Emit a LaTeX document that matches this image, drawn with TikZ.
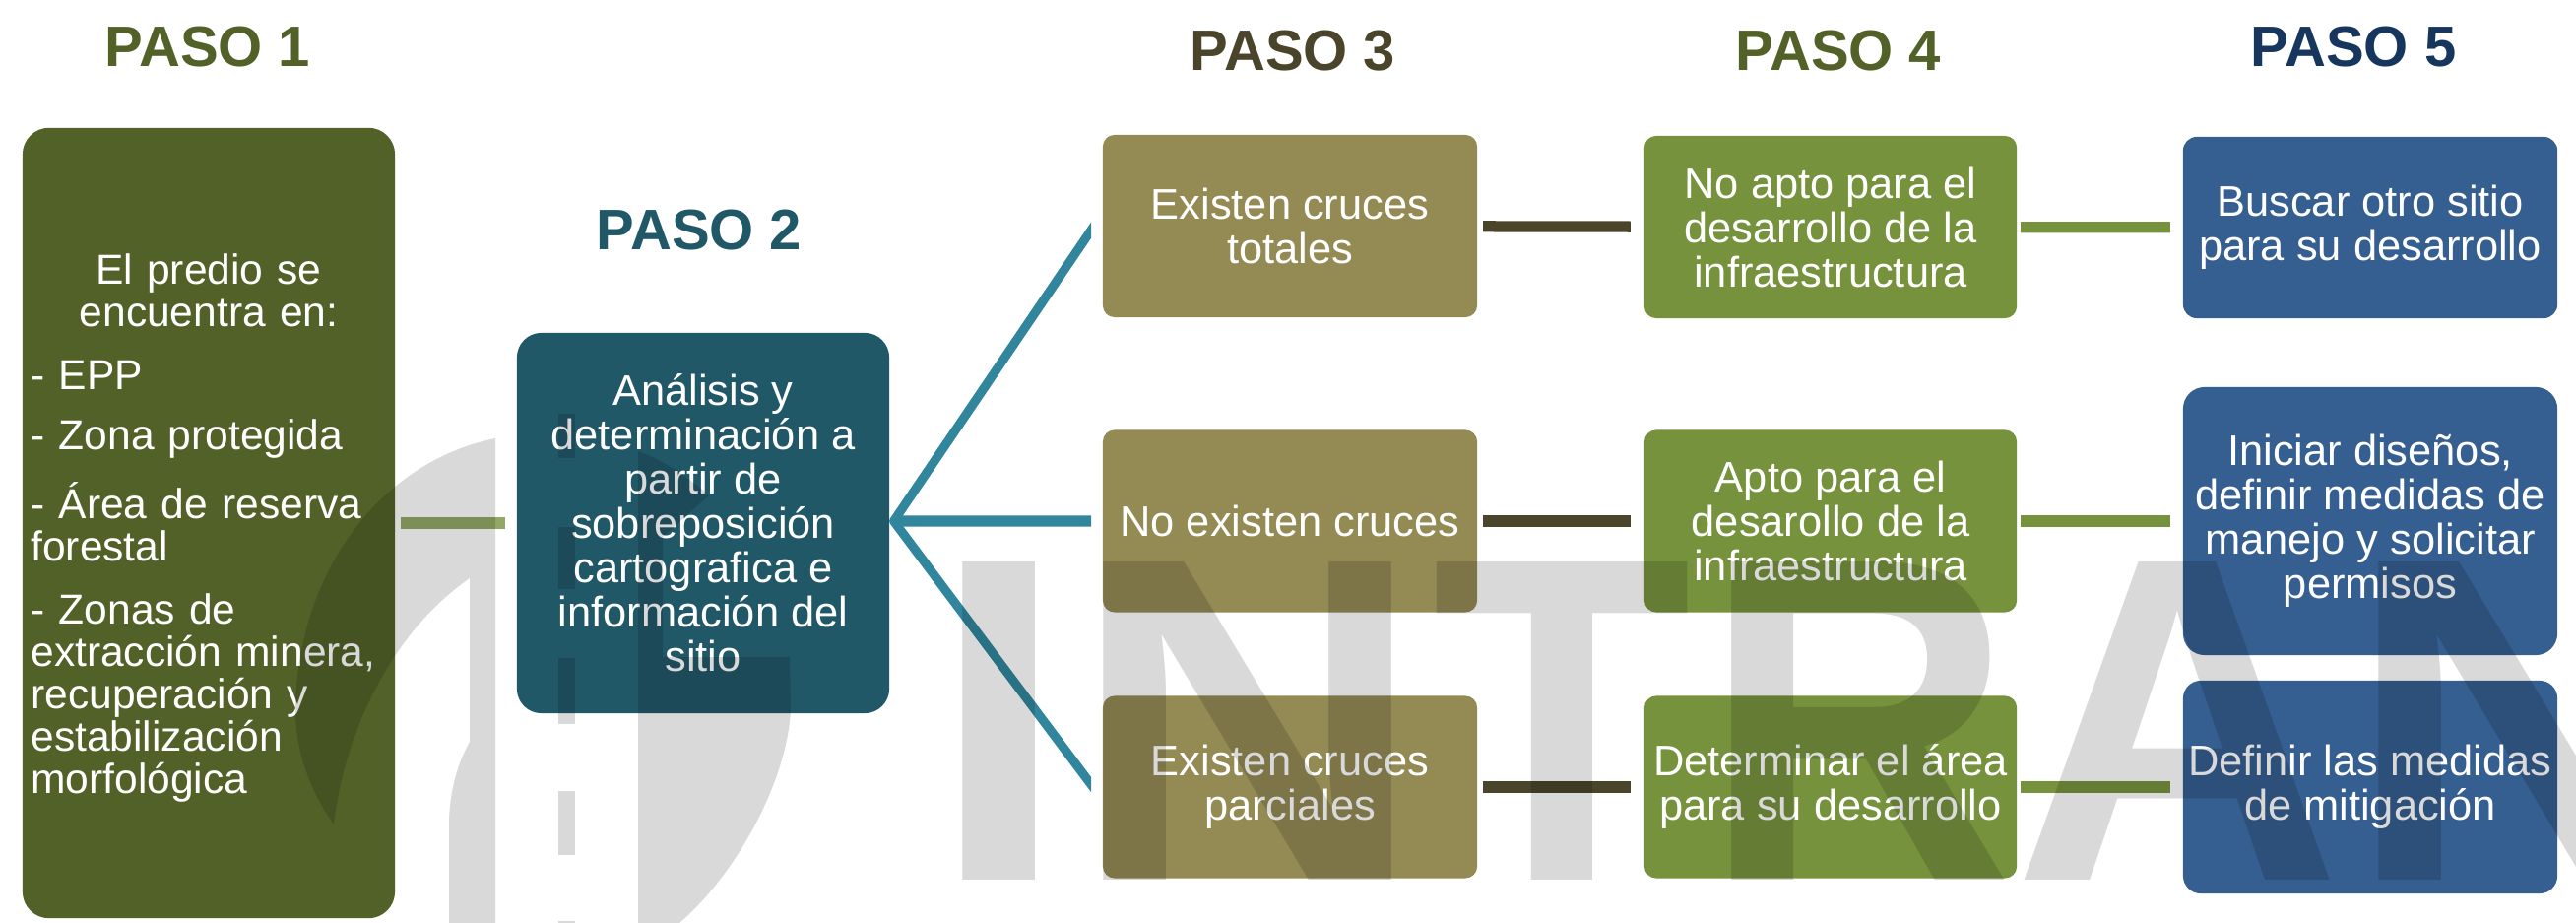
\documentclass[tikz,border=0pt]{standalone}
\usepackage{fontspec}
\setmainfont{Liberation Sans}
\usetikzlibrary{positioning}
\definecolor{olivo}{HTML}{526127}
\definecolor{petroleo}{HTML}{215868}
\definecolor{linea}{HTML}{31859C}
\definecolor{arena}{HTML}{948A54}
\definecolor{cafe}{HTML}{4A452A}
\definecolor{pasto}{HTML}{76923C}
\definecolor{azul}{HTML}{365F91}
\definecolor{marino}{HTML}{17365D}
\definecolor{claro}{HTML}{94A866}
\tikzset{
caja/.style={rectangle,inner sep=0pt,outer sep=0pt,text=white,align=center,font=\fontsize{12.35}{12.8}\selectfont},
cruce/.style={caja,fill=arena,minimum width=3.8cm,minimum height=1.85cm,rounded corners=0.12cm},
apto/.style={caja,fill=pasto,minimum width=3.78cm,minimum height=1.85cm,rounded corners=0.12cm},
accion/.style={caja,fill=azul,minimum width=3.8cm,rounded corners=0.18cm},
titulo/.style={inner sep=0pt,anchor=base,font=\fontsize{16.5}{18}\selectfont\bfseries},
tramo/.style={line width=3.2pt,shorten <=0.06cm,shorten >=0.14cm},
rama/.style={line width=2.6pt,linea,line join=round},
marca/.style={inner sep=0pt,anchor=base west,text=black,text opacity=0.15,font=\fontsize{133.5}{133.5}\selectfont\bfseries},
gris/.style={fill=black,fill opacity=0.15}
}
\begin{document}
\begin{tikzpicture}[x=0.01cm,y=-0.01cm]
\useasboundingbox (0,0) rectangle (2616,937);
% titulos
\node[titulo,text=olivo] (t1) at (211,68) {PASO 1};
\node[titulo,text=petroleo] (t2) at (710,254) {PASO 2};
\node[titulo,text=cafe] (t3) at (1313,72) {PASO 3};
\node[titulo,text=olivo] (t4) at (1867,72) {PASO 4};
\node[titulo,text=marino] (t5) at (2390,68) {PASO 5};
% paso 1 y 2
\node[caja,fill=olivo,minimum width=3.78cm,minimum height=8.02cm,rounded corners=0.27cm] (predio) at (212,531) {};
\node[inner sep=0pt,text=white,text width=3.61cm,align=left,font=\fontsize{12.1}{12.2}\selectfont] (lista) at ([yshift=-0.05cm]predio.center) {{\centering El predio se\\ encuentra en:\par}\vspace{6pt}
- EPP\par\vspace{5.2pt}
- Zona protegida\par\vspace{6pt}
- Área de reserva\\ forestal\par\vspace{6pt}
- Zonas de\\ extracción minera,\\ recuperación y\\ estabilización\\ morfológica};
\node[caja,fill=petroleo,minimum width=3.78cm,minimum height=3.86cm,rounded corners=0.25cm] (analisis) at (714,531) {Análisis y\\ determinación a\\ partir de\\ sobreposición\\ cartografica e\\ información del\\ sitio};
% paso 3
\node[cruce] (totales) at (1310,229.5) {Existen cruces\\ totales};
\node[cruce] (nocruces) at (1310,529) {No existen cruces};
\node[cruce] (parciales) at (1310,799) {Existen cruces\\ parciales};
% paso 4
\node[apto] (noapto) at (1859,230.5) {No apto para el\\ desarrollo de la\\ infraestructura};
\node[apto] (siapto) at (1859,529) {Apto para el\\ desarollo de la\\ infraestructura};
\node[apto] (area) at (1859,799) {Determinar el área\\ para su desarrollo};
% paso 5
\node[accion,minimum height=1.84cm,rounded corners=0.14cm] (buscar) at (2407,231) {Buscar otro sitio\\ para su desarrollo};
\node[accion,minimum height=2.72cm,rounded corners=0.22cm] (iniciar) at (2407,529) {Iniciar diseños,\\ definir medidas de\\ manejo y solicitar\\ permisos};
\node[accion,minimum height=2.16cm] (definir) at (2407,799) {Definir las medidas\\ de mitigación};
% conectores
\draw[line width=3.6pt,claro,shorten <=0.06cm,shorten >=0.12cm] (predio) -- (analisis);
\coordinate (vertice) at ([xshift=0.045cm,yshift=0.02cm]analisis.east);
\begin{scope}
\clip (0,0) rectangle (1108,937);
\draw[rama] (totales.176) -- (vertice) -- (parciales.184);
\draw[rama,line width=3.2pt] (vertice) -- (nocruces.west);
\end{scope}
\foreach \a/\b/\c in {totales/noapto/buscar,nocruces/siapto/iniciar,parciales/area/definir}{
\draw[tramo,cafe] (\a) -- (\b);
\draw[tramo,pasto,shorten <=0.04cm,shorten >=0.13cm] (\b) -- (\c);
}
% marca de agua
\fill[gris] (503,445) .. controls (380,470) and (301,590) .. (300,720) .. controls (300,770) and (320,810) .. (339,837) .. controls (350,740) and (400,640) .. (477,587) -- (477,753) .. controls (462,780) and (456,810) .. (456,837) -- (456,937) -- (503,937) -- cycle;
\fill[gris] (648,458) .. controls (675,468) and (700,485) .. (720,503) -- (673,545) -- (673,667) -- (802,667) -- (803,720) .. controls (800,790) and (750,885) .. (690,937) -- (648,937) -- cycle;
\foreach \ya/\yb in {420/465,535/598,668/735,803/868,935/937}{
\fill[gris] (567,\ya) rectangle (584,\yb);
}
\foreach \letra/\lx/\sx/\n in {I/943/1.09/1,N/1087/1.06/2,T/1454/0.92/3,R/1729/0.93/4,A/2044/0.985/5,N/2382/1.06/6}{
\node[marca,xscale=\sx] (letra\n) at (\lx,893) {\letra};
}
\end{tikzpicture}
\end{document}
